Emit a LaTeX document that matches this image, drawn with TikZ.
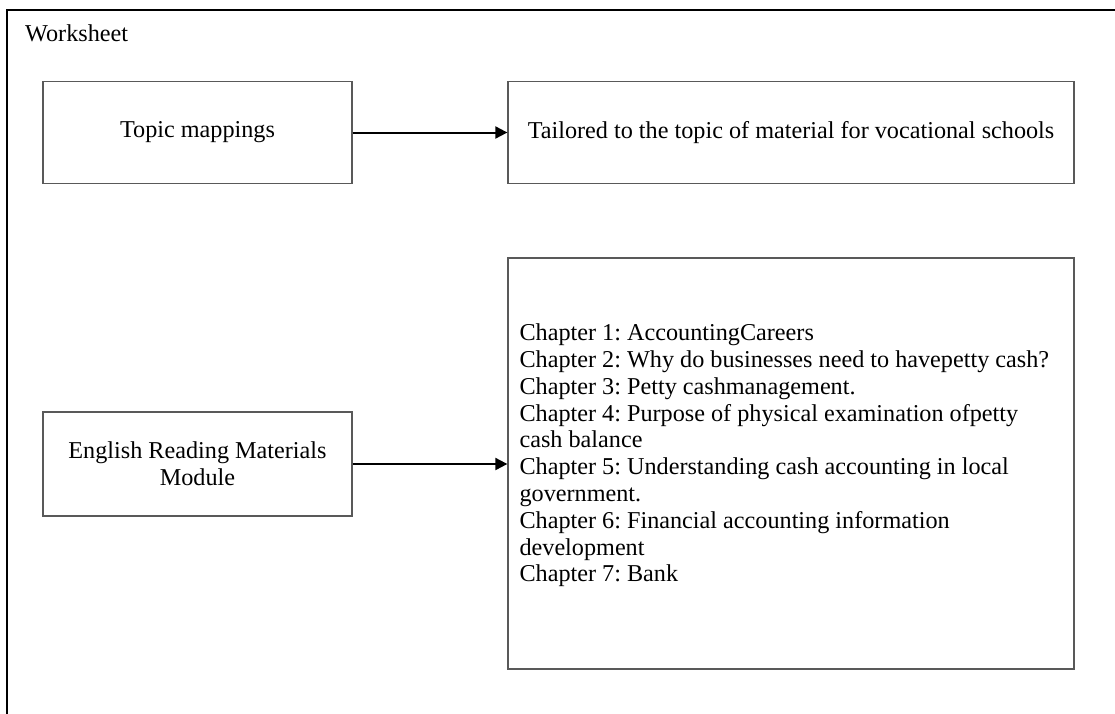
\documentclass[tikz,border=0pt]{standalone}
\usepackage{fontspec}
\setmainfont{Liberation Serif}
\usetikzlibrary{arrows.meta}
\begin{document}
\frenchspacing
\begin{tikzpicture}[x=1pt,y=-1pt,
  box/.style={draw=black!65, line width=1.3pt, inner sep=0pt, align=center},
  conn/.style={-{Triangle[length=12pt,width=12pt]}, line width=2pt, black},
  txt/.style={font=\fontsize{24.2}{26.8}\selectfont}]
\useasboundingbox (0,0) rectangle (1115,713);
\draw[line width=2.5pt] (7,740) -- (7,10) -- (1140,10);
\node[txt, anchor=base west, inner sep=0pt] (ws) at (25,41) {Worksheet};
\node[box, txt, minimum width=309pt, minimum height=102pt] (topic) at (197.5,132.5) {Topic mappings};
\node[box, txt, minimum width=566pt, minimum height=102pt] (tailored) at (791,132.5) {Tailored to the topic of material for vocational schools};
\node[box, txt, minimum width=309pt, minimum height=104pt] (english) at (197.5,464) {English Reading Materials\\Module};
\node[box, minimum width=566pt, minimum height=411pt] (chapters) at (791,463.5) {};
\node[txt, anchor=west, inner sep=0pt, align=left] (chaptext) at ([xshift=12pt,yshift=8pt]chapters.west) {Chapter 1: AccountingCareers\\
Chapter 2: Why do businesses need to havepetty cash?\\
Chapter 3: Petty cashmanagement.\\
Chapter 4: Purpose of physical examination ofpetty\\
cash balance\\
Chapter 5: Understanding cash accounting in local\\
government.\\
Chapter 6: Financial accounting information\\
development\\
Chapter 7: Bank};
\draw[conn] (topic.east) -- (tailored.west);
\draw[conn] (english.east) -- (english.east -| chapters.west);
\end{tikzpicture}
\end{document}
